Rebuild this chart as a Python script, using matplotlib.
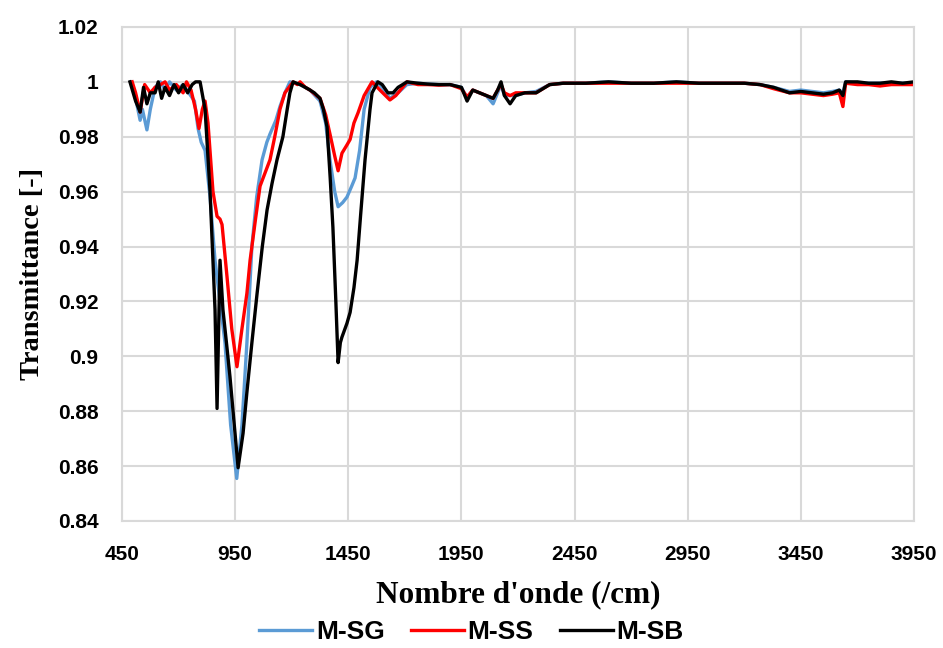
import matplotlib.pyplot as plt
import numpy as np

# wavenumbers (cm-1) and transmittance
wn_sg = [490, 510, 530, 540, 560, 575, 596, 620, 640, 660, 690, 720, 745, 770, 786, 800, 817, 839,
         861, 883, 905, 930, 957, 980, 1002, 1024, 1045, 1069, 1090, 1104, 1130, 1148, 1170, 1192,
         1237, 1281, 1325, 1350, 1369, 1390, 1405, 1425, 1444, 1465, 1480, 1500, 1520, 1546, 1575,
         1600, 1634, 1670, 1709]
t_sg = [1.0, 0.994, 0.986, 0.99, 0.9825, 0.99, 0.998, 1.0, 0.997, 1.0, 0.997, 0.999, 0.996, 0.993,
        0.983, 0.978, 0.975, 0.958, 0.935, 0.92, 0.905, 0.875, 0.8555, 0.875, 0.905, 0.94, 0.958,
        0.9716, 0.978, 0.981, 0.986, 0.991, 0.996, 1.0, 0.999, 0.997, 0.993, 0.985, 0.9716, 0.96,
        0.9545, 0.956, 0.958, 0.962, 0.965, 0.975, 0.99, 0.998, 1.0, 0.998, 0.994, 0.996, 0.999]

wn_ss = [495, 510, 530, 550, 575, 596, 620, 640, 660, 690, 720, 735, 755, 775, 790, 805, 817, 830,
         852, 870, 883, 892, 914, 935, 958, 980, 1002, 1016, 1040, 1060, 1104, 1125, 1148, 1170,
         1206, 1225, 1237, 1260, 1281, 1325, 1350, 1369, 1390, 1405, 1422, 1444, 1458, 1475, 1493,
         1520, 1555, 1590, 1634, 1660, 1690, 1709]
t_ss = [1.0, 0.996, 0.989, 0.999, 0.996, 0.998, 0.999, 1.0, 0.997, 0.999, 0.996, 1.0, 0.997, 0.99,
        0.983, 0.99, 0.993, 0.985, 0.96, 0.951, 0.95, 0.948, 0.929, 0.91, 0.8962, 0.91, 0.923,
        0.935, 0.95, 0.962, 0.9716, 0.98, 0.99, 0.996, 1.0, 0.999, 1.0, 0.998, 0.997, 0.994, 0.988,
        0.981, 0.973, 0.9676, 0.974, 0.977, 0.979, 0.985, 0.9887, 0.995, 1.0, 0.997, 0.9934, 0.995,
        0.998, 1.0]

wn_sb = [485, 510, 530, 545, 560, 575, 596, 610, 625, 640, 660, 680, 700, 720, 740, 760, 775, 795,
         817, 839, 861, 870, 883, 896, 914, 927, 945, 963, 985, 1002, 1024, 1047, 1070, 1091, 1113,
         1135, 1161, 1180, 1192, 1206, 1237, 1260, 1281, 1300, 1325, 1340, 1356, 1370, 1382, 1395,
         1405, 1415, 1422, 1444, 1458, 1475, 1489, 1505, 1524, 1546, 1555, 1581, 1600, 1625, 1648,
         1670, 1690, 1709]
t_sb = [1.0, 0.993, 0.989, 0.998, 0.992, 0.996, 0.996, 1.0, 0.994, 0.998, 0.995, 0.999, 0.996,
        0.999, 0.996, 0.999, 1.0, 1.0, 0.99, 0.96, 0.917, 0.881, 0.935, 0.917, 0.903, 0.8926, 0.876,
        0.8594, 0.872, 0.887, 0.905, 0.923, 0.94, 0.9533, 0.963, 0.9716, 0.98, 0.99, 0.996, 1.0,
        0.999, 0.998, 0.997, 0.996, 0.994, 0.99, 0.9836, 0.965, 0.947, 0.92, 0.8977, 0.905, 0.907,
        0.912, 0.916, 0.925, 0.935, 0.952, 0.9716, 0.99, 0.996, 1.0, 0.999, 0.996, 0.996, 0.998,
        0.999, 1.0]

# flat part of the spectra above 1750 cm-1
wn_tail = [1758, 1800, 1850, 1900, 1950, 1975, 2000, 2030, 2060, 2090, 2110, 2125, 2140, 2165, 2190,
           2230, 2280, 2340, 2400, 2500, 2600, 2700, 2800, 2900, 3000, 3100, 3200, 3270, 3330, 3400,
           3450, 3500, 3550, 3590, 3620, 3636, 3648, 3700, 3750, 3800, 3850, 3900, 3950]
tail_sg = [0.9995, 0.9992, 0.999, 0.999, 0.998, 0.994, 0.997, 0.996, 0.995, 0.992, 0.996, 0.999,
           0.995, 0.995, 0.995, 0.996, 0.9965, 0.999, 0.9995, 0.9995, 1.0, 0.9995, 0.9995, 1.0,
           0.9995, 0.9995, 0.9995, 0.999, 0.998, 0.9965, 0.997, 0.9965, 0.996, 0.9965, 0.997, 0.996,
           1.0, 0.9995, 0.9995, 0.9995, 0.9995, 0.9995, 0.9995]
tail_ss = [0.999, 0.999, 0.9988, 0.999, 0.9975, 0.9945, 0.997, 0.996, 0.995, 0.994, 0.997, 0.999,
           0.996, 0.995, 0.996, 0.996, 0.996, 0.999, 0.9995, 0.9995, 0.9995, 0.9995, 0.9995, 0.9995,
           0.9995, 0.9995, 0.9995, 0.999, 0.9975, 0.996, 0.996, 0.9955, 0.995, 0.9955, 0.996, 0.991,
           0.9995, 0.999, 0.999, 0.9985, 0.999, 0.999, 0.999]
tail_sb = [0.9995, 0.9992, 0.999, 0.999, 0.998, 0.993, 0.997, 0.996, 0.995, 0.994, 0.997, 1.0,
           0.995, 0.992, 0.995, 0.996, 0.996, 0.999, 0.9995, 0.9995, 1.0, 0.9995, 0.9995, 1.0,
           0.9995, 0.9995, 0.9995, 0.999, 0.998, 0.996, 0.9965, 0.996, 0.9955, 0.996, 0.997, 0.995,
           1.0, 1.0, 0.9995, 0.9995, 1.0, 0.9995, 1.0]

series = [('M-SG', wn_sg, t_sg, tail_sg, '#5b9bd5'),
          ('M-SS', wn_ss, t_ss, tail_ss, '#ff0000'),
          ('M-SB', wn_sb, t_sb, tail_sb, '#000000')]

tick_font = ['Liberation Sans', 'DejaVu Sans']
label_font = ['Liberation Serif', 'DejaVu Serif']

fig = plt.figure(figsize=(9.43, 6.48), dpi=100)
ax = fig.add_axes([0.1294, 0.196, 0.8398, 0.7624])

for name, wn, t, tail, col in series:
    ax.plot(wn + wn_tail, t + tail, color=col, lw=2.4, label=name)

ax.set_xlim(450, 3950)
ax.set_ylim(0.84, 1.02)
ax.set_xticks(np.arange(450, 3951, 500))
yt = np.round(np.arange(0.84, 1.0201, 0.02), 2)
ax.set_yticks(yt)
ax.set_yticklabels(['%g' % v for v in yt])
ax.grid(True, color='#d9d9d9', lw=1.5)
ax.set_axisbelow(True)
for s in ax.spines.values():
    s.set_color('#d9d9d9')
    s.set_linewidth(1.5)
ax.tick_params(axis='x', length=0, pad=17)
ax.tick_params(axis='y', length=0, pad=17)
for lab in ax.get_xticklabels() + ax.get_yticklabels():
    lab.set_family(tick_font)
    lab.set_fontweight('bold')
    lab.set_fontsize(15)

ax.set_xlabel("Nombre d'onde (/cm)", family=label_font, fontweight='bold', fontsize=22.5, labelpad=12)
ax.set_ylabel('Transmittance [-]', family=label_font, fontweight='bold', fontsize=20.5, labelpad=9)

fig.legend(loc='center', ncol=3, frameon=False, bbox_to_anchor=(0.5, 0.025),
           prop={'family': tick_font, 'weight': 'bold', 'size': 19},
           handlelength=2.0, handletextpad=0.15, columnspacing=1.0)

fig.savefig('out.png', dpi=100)
